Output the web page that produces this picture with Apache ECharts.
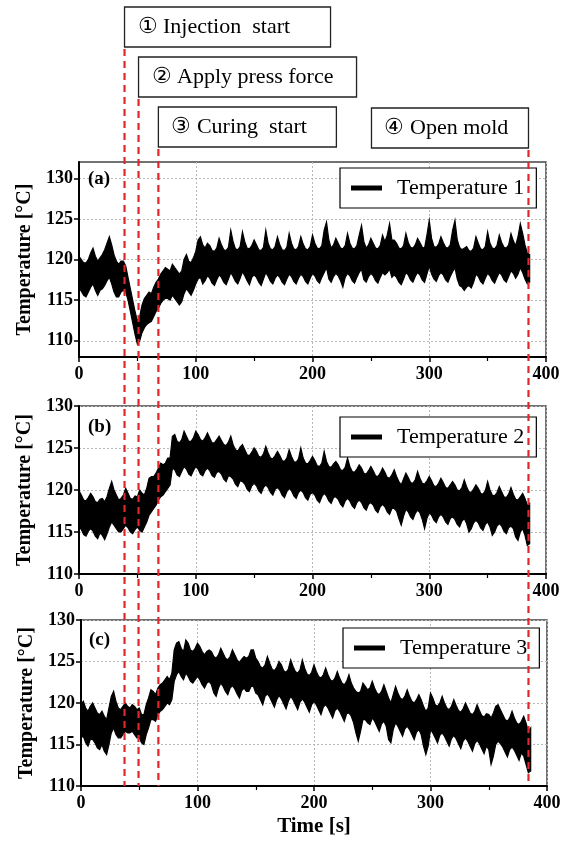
<!DOCTYPE html>
<html><head><meta charset="utf-8">
<script src="https://cdn.jsdelivr.net/npm/echarts@6/dist/echarts.min.js"></script>
<style>html,body{margin:0;padding:0;background:#fff}#c{width:572px;height:841px}</style>
</head><body><div id="c"></div>
<script>
// ---- data (samples every 2 s, band = upper / lower edge of the trace) ----
const STEP = 2;
const t1Upper = [
120.4,120.0,119.6,119.6,120.0, 120.8,121.4,120.4,119.8,120.2, 120.6,121.2,122.0,122.8,121.8, 120.6,119.8,119.4,119.8,119.8,
119.2,117.8,116.4,115.0,113.6, 112.4,113.0,114.4,115.2,115.6, 116.0,115.8,116.6,117.2,117.6, 118.2,118.6,119.0,118.8,118.6,
119.4,119.0,118.6,118.2,118.6, 120.0,120.6,119.8,119.6,120.2, 121.0,122.4,122.8,121.8,121.4, 122.0,121.7,121.1,121.0,121.4,
122.6,121.8,121.2,121.1,121.5, 123.6,122.2,121.3,121.2,121.6, 123.4,122.2,121.4,121.3,121.7, 122.4,121.8,121.2,121.1,121.5,
123.6,122.0,121.3,121.2,121.6, 122.8,121.8,121.2,121.1,121.5, 123.2,122.0,121.3,121.2,121.6, 122.8,121.9,121.3,121.2,121.6,
123.0,122.0,121.4,121.3,121.7, 123.6,124.6,122.4,121.4,121.8, 122.6,122.0,121.4,121.3,121.7, 123.2,122.0,121.4,121.3,121.7,
123.0,124.2,122.2,121.4,121.8, 122.6,122.0,121.4,121.3,121.7, 123.0,122.2,123.0,124.4,122.4, 122.4,122.0,121.4,121.3,121.7,
123.2,122.1,121.5,121.4,121.8, 122.6,122.1,121.5,121.4,123.0, 124.8,122.6,121.6,121.5,121.9, 122.8,122.1,121.5,121.4,121.8,
123.6,124.8,122.4,121.5,121.2, 121.4,121.6,121.1,121.0,121.4, 122.8,122.0,121.3,121.2,121.6, 123.4,122.0,121.4,121.3,121.7,
123.0,122.1,121.5,121.4,121.8, 123.2,122.3,121.7,122.8,124.4, 123.2,121.8,120.8,120.6];
const t1Lower = [
116.4,116.1,115.6,115.4,116.0, 116.6,117.0,116.2,115.6,116.2, 116.4,116.8,117.4,117.8,117.0, 116.0,115.4,115.4,116.0,116.2,
116.0,115.0,113.6,112.2,110.8, 109.6,110.0,111.0,111.6,112.0, 112.2,112.4,113.0,113.6,114.0, 114.6,115.0,115.2,115.2,115.0,
115.6,115.2,114.8,114.4,114.8, 115.8,116.4,116.0,115.6,116.2, 117.0,117.6,117.8,117.0,117.4, 118.0,117.7,117.1,116.8,117.5,
118.1,117.8,117.2,116.9,117.6, 118.4,117.9,117.3,117.0,117.7, 118.5,118.0,117.4,116.9,117.8, 118.1,117.8,117.2,116.8,117.6,
118.4,117.9,117.3,117.0,117.7, 118.1,117.8,117.2,116.9,117.6, 118.2,117.9,117.3,117.0,117.7, 118.2,117.9,117.3,117.0,117.7,
118.3,118.0,117.4,117.1,117.8, 118.4,119.0,117.6,117.2,117.9, 118.3,118.0,117.4,116.6,117.8, 118.3,118.0,117.4,117.1,117.8,
118.4,118.8,117.5,117.2,117.9, 118.3,118.0,117.4,117.1,117.8, 118.4,118.1,118.4,118.8,117.8, 118.1,117.8,117.2,116.9,117.6,
118.4,118.1,117.5,117.2,117.9, 118.4,118.1,117.5,117.2,118.2, 119.2,118.2,117.6,117.3,118.0, 118.4,118.1,117.5,117.2,117.9,
118.5,119.0,117.6,116.8,116.6, 116.2,116.6,116.8,116.5,117.2, 118.2,117.9,117.3,117.0,117.7, 118.3,118.0,117.4,117.1,117.8,
118.4,118.1,117.5,117.2,117.9, 118.6,118.3,117.7,118.2,119.0, 118.4,117.6,117.0,117.2];
const t2Upper = [
119.9,119.4,118.8,118.7,119.1, 119.6,119.2,118.6,118.5,118.9, 119.0,118.6,119.2,120.2,121.0, 120.0,119.4,118.8,119.0,119.4,
120.2,119.6,119.0,118.9,119.3, 119.2,120.0,119.6,119.4,120.2, 121.4,121.6,121.6,122.0,122.6, 123.2,123.0,123.2,123.8,123.8,
126.4,126.6,125.8,125.6,126.0, 127.0,126.4,125.8,125.8,126.2, 127.0,126.6,126.0,125.8,126.2, 126.8,126.2,125.6,125.6,126.0,
126.4,125.9,125.4,125.3,125.7, 126.4,125.4,124.8,124.6,125.1, 125.4,124.8,124.2,124.1,124.5, 125.0,124.6,124.0,123.9,124.3,
125.2,124.4,123.8,123.7,124.1, 124.6,124.1,123.5,123.4,123.8, 124.8,124.0,123.4,123.3,123.7, 125.0,123.8,123.2,123.1,123.5,
124.0,123.5,122.9,122.8,123.2, 124.6,123.4,122.8,122.7,123.1, 123.4,123.0,122.4,122.3,122.7, 123.8,122.8,122.2,122.1,122.5,
123.0,122.6,122.0,121.9,122.3, 122.8,122.3,121.7,121.6,122.0, 122.6,122.1,121.5,121.4,121.8, 122.4,121.6,121.0,120.6,121.3,
122.0,121.5,120.9,120.8,121.2, 122.2,121.4,120.8,120.7,121.1, 121.6,121.1,120.5,120.4,120.8, 121.4,120.9,120.3,120.2,120.6,
121.0,120.6,120.0,119.9,120.3, 121.2,120.4,119.8,119.7,120.1, 120.6,120.2,119.6,119.5,119.9, 121.0,120.0,119.4,119.3,119.7,
120.4,119.8,119.2,119.1,119.5, 120.3,119.5,118.9,118.8,119.2, 119.6,119.0,118.2,118.4];
const t2Lower = [
115.6,115.3,114.7,114.5,115.1, 115.4,115.1,114.5,114.2,114.9, 114.6,114.1,114.8,115.6,116.2, 115.8,115.4,115.0,115.0,115.4,
115.8,115.5,115.0,114.8,115.3, 115.6,115.2,115.0,115.6,116.2, 117.0,117.4,117.8,118.2,118.8, 119.2,119.4,119.8,120.2,120.6,
122.6,122.4,121.8,121.6,122.2, 122.8,122.5,121.9,121.7,122.3, 122.8,122.5,121.9,121.7,122.3, 122.6,122.3,121.7,121.5,122.1,
122.2,121.9,121.3,121.0,121.7, 121.6,121.3,120.7,120.4,121.1, 121.0,120.7,120.1,119.8,120.5, 120.8,120.5,119.9,119.6,120.3,
120.6,120.3,119.7,119.4,120.1, 120.3,120.0,119.4,119.1,119.8, 120.2,119.9,119.3,119.0,119.7, 120.0,119.7,119.1,118.8,119.5,
119.7,119.4,118.8,118.5,119.2, 119.6,119.3,118.7,118.4,119.1, 119.2,118.9,118.3,118.0,118.7, 119.0,118.7,118.1,117.8,118.5,
118.8,118.5,117.9,117.6,118.3, 118.5,118.2,117.6,117.3,118.0, 118.3,118.0,117.4,117.1,117.8, 117.8,117.5,116.6,115.8,116.9,
117.7,117.4,116.8,116.5,117.2, 117.6,117.3,116.5,115.4,116.6, 117.3,117.0,116.4,116.1,116.8, 117.1,116.8,116.2,115.9,116.6,
116.8,116.5,115.9,115.6,116.3, 116.6,116.0,115.0,115.4,116.1, 116.4,116.1,115.5,115.2,115.9, 116.2,115.6,114.6,115.0,115.7,
116.0,115.7,115.1,114.8,115.5, 115.7,115.4,114.4,114.0,115.0, 115.4,114.6,113.4,113.6];
const t3Upper = [
119.8,120.2,119.4,119.0,119.6, 120.0,119.4,118.8,118.6,119.0, 118.4,118.0,119.4,120.8,121.4, 120.2,119.4,119.2,119.6,120.0,
119.6,119.4,119.8,119.6,119.2, 119.4,118.6,118.6,119.8,120.6, 121.6,121.4,121.0,121.8,122.2, 122.4,122.8,123.2,122.8,123.6,
126.4,127.2,127.4,126.6,126.2, 127.6,127.2,126.4,126.2,126.6, 127.2,126.8,126.2,125.8,126.2, 126.4,126.2,125.6,125.4,125.8,
126.6,126.0,125.4,125.2,125.6, 126.4,125.8,125.2,124.9,125.3, 125.6,125.4,125.6,126.4,126.4, 125.4,125.0,124.4,124.2,124.6,
125.6,124.8,124.1,123.9,124.3, 125.0,124.6,123.9,123.7,124.1, 125.2,124.4,123.8,123.6,124.0, 125.2,124.2,123.5,123.3,123.7,
124.6,123.8,123.2,123.0,123.4, 124.2,123.4,122.8,122.6,123.0, 123.8,123.0,122.4,122.2,122.6, 123.4,122.4,121.8,121.4,121.2,
121.4,122.4,122.0,121.6,121.8, 122.6,121.8,121.2,121.0,121.4, 122.2,121.4,120.6,120.0,121.0, 122.0,121.2,120.6,120.4,120.8,
121.6,120.8,120.2,120.0,120.4, 121.0,120.4,119.6,119.0,119.4, 121.2,120.6,119.8,119.6,120.0, 120.8,120.0,119.4,119.2,119.6,
120.4,119.7,119.1,118.9,119.3, 120.0,119.4,118.8,118.6,119.0, 119.8,119.1,118.5,118.3,118.7, 118.6,118.2,118.8,119.6,119.8,
119.2,118.6,118.0,117.8,118.2, 119.0,118.2,117.6,117.4,117.8, 118.4,117.6,116.6,117.0];
const t3Lower = [
115.8,116.0,115.2,114.8,115.6, 115.6,115.2,114.6,114.4,115.0, 114.2,113.8,115.0,116.4,117.0, 116.2,115.8,115.8,116.2,116.6,
116.4,116.4,116.6,116.2,115.8, 115.8,115.2,115.0,116.2,117.0, 118.0,118.0,117.8,118.6,119.0, 119.2,119.6,120.0,119.8,120.4,
122.6,123.4,123.8,123.2,122.8, 123.6,123.2,122.6,122.4,122.8, 123.2,122.8,122.2,121.8,122.4, 122.6,122.2,121.2,120.8,121.8,
122.4,122.0,121.4,121.0,121.8, 122.1,121.7,121.1,120.6,121.5, 121.8,121.4,121.4,122.0,122.0, 121.2,121.0,120.4,119.8,120.8,
121.1,120.7,120.1,119.5,120.4, 120.9,120.5,119.9,119.3,120.2, 120.8,120.4,119.8,119.2,120.1, 120.5,120.1,119.5,118.9,119.8,
120.2,119.8,119.2,118.6,119.5, 119.8,119.4,118.8,118.2,119.1, 119.4,119.0,118.4,117.8,118.7, 118.8,118.4,117.6,116.4,115.4,
116.6,118.0,118.0,117.6,117.4, 118.2,117.8,117.2,116.6,117.5, 117.8,117.2,115.6,115.2,116.8, 117.6,117.2,116.6,116.0,116.9,
117.2,116.8,116.2,115.6,116.5, 116.8,116.2,114.8,113.8,114.8, 116.8,116.4,115.8,115.2,116.1, 116.4,116.0,115.4,114.8,115.7,
116.1,115.7,115.1,114.5,115.4, 115.8,115.4,114.8,114.2,115.1, 115.5,115.1,114.5,113.9,114.8, 114.4,112.6,113.6,115.0,115.4,
115.1,114.7,114.1,113.5,114.4, 114.7,114.3,113.7,113.1,114.0, 113.6,112.6,111.6,111.8];

const seriesNames = ['Temperature 1', 'Temperature 2', 'Temperature 3'];
const panelLabels = ['(a)', '(b)', '(c)'];
const eventTimes = [39, 51, 68, 385];
const eventLabels = ['\u2460 Injection  start', '\u2461 Apply press force', '\u2462 Curing  start', '\u2463 Open mold'];
const xTicks = [0, 100, 200, 300, 400];
const yTicks = [110, 115, 120, 125, 130];
const yRanges = [[108, 132], [110, 130], [110, 130]];
const xTitle = 'Time [s]';
const yTitle = 'Temperature [\u00B0C]';

// ---- layout / style ----
const FONT = '"Liberation Serif", "Times New Roman", serif';
const RED = '#e3262b';
const grids = [
  {left: 79, top: 162, width: 467, height: 195},
  {left: 79, top: 406, width: 467, height: 168},
  {left: 81, top: 620, width: 466, height: 166}
];
const legendPos = [{left: 340, top: 168}, {left: 340, top: 417}, {left: 343, top: 628}];
const labelPos = [{x: 88, y: 179}, {x: 88, y: 427}, {x: 89, y: 640}];
const boxTop = [7, 57, 107, 108];
const boxW = [206, 218, 178, 157];
const BOX_H = 40;

const uppers = [t1Upper, t2Upper, t3Upper];
const lowers = [t1Lower, t2Lower, t3Lower];

const chart = echarts.init(document.getElementById('c'), null, {renderer: 'canvas'});

function bandRenderer(i) {
  const up = uppers[i], lo = lowers[i];
  return function (params, api) {
    const pts = [];
    for (let j = 0; j < up.length; j++) pts.push(api.coord([j * STEP, up[j]]));
    for (let j = lo.length - 1; j >= 0; j--) pts.push(api.coord([j * STEP, lo[j]]));
    return {
      type: 'polygon', shape: {points: pts},
      style: {fill: '#000', stroke: '#000', lineWidth: 1.2, lineJoin: 'miter'}
    };
  };
}

const xAxes = [], yAxes = [], series = [], legends = [];
for (let i = 0; i < 3; i++) {
  xAxes.push({
    gridIndex: i, type: 'value', min: xTicks[0], max: xTicks[xTicks.length - 1], interval: xTicks[1] - xTicks[0],
    name: i === 2 ? xTitle : '', nameLocation: 'middle', nameGap: 30,
    nameTextStyle: {fontFamily: FONT, fontWeight: 'bold', fontSize: 21, color: '#000'},
    axisLine: {show: true, onZero: false, lineStyle: {color: '#000', width: 2}},
    axisTick: {show: true, length: 5, lineStyle: {color: '#000', width: 1.5}},
    minorTick: {show: true, splitNumber: 2, length: 4, lineStyle: {color: '#000', width: 1.2}},
    axisLabel: {fontFamily: FONT, fontWeight: 'bold', fontSize: 18, color: '#000', margin: 8},
    splitLine: {show: true, lineStyle: {color: '#b8b8b8', type: [2, 2], width: 1}}
  });
  yAxes.push({
    gridIndex: i, type: 'value', min: yRanges[i][0], max: yRanges[i][1],
    name: yTitle, nameLocation: 'middle', nameGap: 44,
    nameTextStyle: {fontFamily: FONT, fontWeight: 'bold', fontSize: 20, color: '#000'},
    axisLine: {show: true, onZero: false, lineStyle: {color: '#000', width: 2}},
    axisTick: {show: true, length: 5, lineStyle: {color: '#000', width: 1.5}, customValues: yTicks},
    axisLabel: {fontFamily: FONT, fontWeight: 'bold', fontSize: 18, color: '#000', margin: 6, customValues: yTicks},
    splitLine: {show: true, lineStyle: {color: '#b8b8b8', type: [2, 2], width: 1}}
  });
  series.push({
    type: 'custom', name: seriesNames[i], xAxisIndex: i, yAxisIndex: i,
    data: [[0, uppers[i][0]]], renderItem: bandRenderer(i), clip: true, silent: true,
    itemStyle: {color: '#000'}, z: 3
  });
  legends.push({
    data: [{name: seriesNames[i], icon: 'rect'}],
    left: legendPos[i].left, top: legendPos[i].top, orient: 'horizontal',
    itemWidth: 31, itemHeight: 5, padding: [9, 12, 9, 11],
    borderColor: '#000', borderWidth: 1.2, backgroundColor: '#fff',
    selectedMode: false, itemStyle: {color: '#000'},
    textStyle: {fontFamily: FONT, fontSize: 22, color: '#000', padding: [0, 0, 0, 10]}
  });
}

chart.setOption({
  animation: false,
  backgroundColor: '#fff',
  grid: grids.map(g => Object.assign({show: true, borderColor: '#444', borderWidth: 1.5, backgroundColor: 'transparent', containLabel: false}, g)),
  xAxis: xAxes, yAxis: yAxes, legend: legends, series: series
});

// event markers: positions come from the chart's own x scale
const gfx = [];
const yEnd = chart.convertToPixel({yAxisIndex: 2}, yRanges[2][0]);
eventTimes.forEach((t, k) => {
  const x = chart.convertToPixel({xAxisIndex: 0}, t);
  const bx = k < 3 ? x : x - boxW[k];
  gfx.push({type: 'rect', shape: {x: bx, y: boxTop[k], width: boxW[k], height: BOX_H},
    style: {fill: '#fff', stroke: '#222', lineWidth: 1.3}, z: 50});
  gfx.push({type: 'text', x: bx + 13, y: boxTop[k] + BOX_H / 2,
    style: {text: eventLabels[k], font: '22px ' + FONT, fill: '#000', verticalAlign: 'middle', align: 'left'}, z: 51});
  gfx.push({type: 'line', shape: {x1: x, y1: boxTop[k] + BOX_H + 2, x2: x, y2: yEnd},
    style: {stroke: RED, lineWidth: 2.2, lineDash: [7, 5]}, z: 60});
});
panelLabels.forEach((s, i) => {
  gfx.push({type: 'text', x: labelPos[i].x, y: labelPos[i].y,
    style: {text: s, font: 'bold 19px ' + FONT, fill: '#000', verticalAlign: 'middle', align: 'left'}, z: 55});
});
chart.setOption({graphic: gfx});
</script>
</body></html>
